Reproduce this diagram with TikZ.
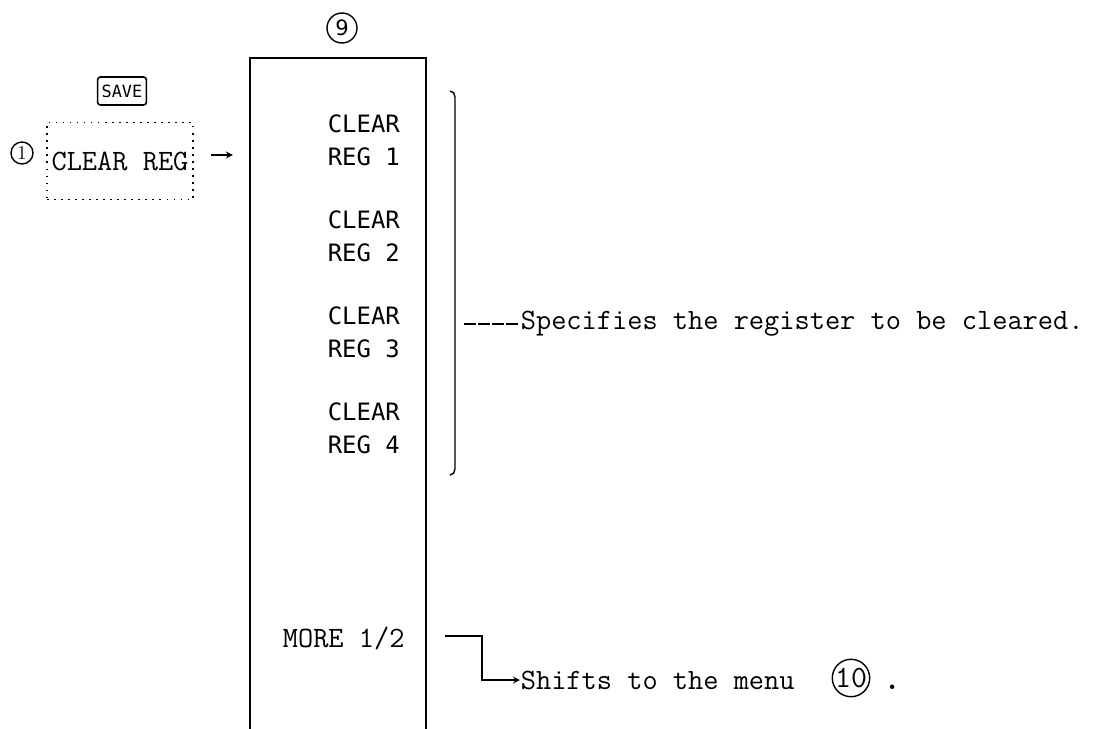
\documentclass[tikz,border=0pt]{standalone}
\usepackage{fontspec}
\newfontfamily\dotmono{DejaVu Sans Mono}
\newfontfamily\numsans{DejaVu Sans}
\usetikzlibrary{positioning}

\begin{document}
\begin{tikzpicture}[
    x=0.025cm, y=-0.025cm,
    mono/.style={font=\ttfamily\fontsize{21}{25}\selectfont, inner sep=0pt},
    menuitem/.style={font=\dotmono\fontsize{17}{23.4}\selectfont, align=left, inner sep=0pt, anchor=west},
    dotbox/.style={draw, line width=1.2pt, dash pattern=on 1.2pt off 3.8pt,
                   minimum width=3.65cm, minimum height=1.92cm, inner sep=0pt},
    keycap/.style={draw, rounded corners=2pt, line width=1.1pt, minimum width=1.22cm,
                   minimum height=0.7cm, inner sep=1pt, font=\dotmono\fontsize{12}{12}\selectfont},
    circnum/.style={draw, circle, inner sep=0pt, line width=1pt},
    >=stealth, line width=1.2pt
]
\useasboundingbox (0,0) rectangle (1113,729);

% left soft key
\node[keycap] (save) at (122,91) {SAVE};
\node[dotbox, mono] (clrreg) at (120,161) {CLEAR REG};
\node[circnum, minimum size=0.55cm, font=\fontsize{14}{14}\selectfont] (one) at (22,153) {1};
\draw[->] ([shift={(17,-6)}]clrreg.east) -- ++(22,0);

% menu column
\node[circnum, minimum size=0.75cm, font=\numsans\fontsize{15}{15}\selectfont] (nine) at (342,28) {9};
\draw (250,729) -- (250,58) -- (426,58) -- (426,729);

\node[menuitem] (reg1) at (327,140) {CLEAR\\REG 1};
\node[menuitem] (reg2) at (327,236) {CLEAR\\REG 2};
\node[menuitem] (reg3) at (327,332) {CLEAR\\REG 3};
\node[menuitem] (reg4) at (327,428) {CLEAR\\REG 4};
\node[mono, anchor=west] (more) at (282,638) {MORE 1/2};

% brace and notes
\draw[line width=1pt] (450,91) to[out=0,in=90] (455,97) -- (455,469) to[out=-90,in=0] (450,475);
\coordinate (dashstart) at (464,324);
\node[mono, anchor=west] (spec) at (520,324) {Specifies the register to be cleared.};
\draw[line width=1.2pt, dash pattern=on 8.5pt off 1.5pt] (dashstart) -- (spec.west);

\coordinate (morestart) at (445,636);
\node[mono, anchor=west] (shift) at (520,680) {Shifts to the menu};
\draw[->] (morestart) -- ++(37,0) |- (shift.west);
\node[circnum, minimum size=0.85cm, font=\ttfamily\fontsize{22}{24}\selectfont] (ten) at (851,678) {10};
\node[anchor=base west, inner sep=0pt, font=\ttfamily\fontsize{28}{30}\selectfont] (dot) at ([xshift=8pt]shift.base -| ten.east) {.};
\end{tikzpicture}
\end{document}
